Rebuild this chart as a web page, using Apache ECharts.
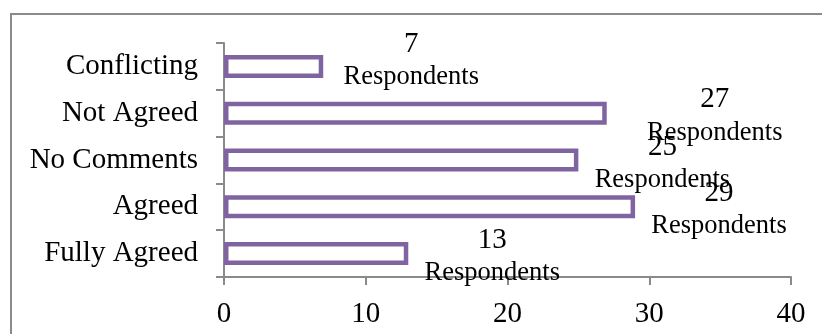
<!DOCTYPE html>
<html>
<head>
<meta charset="utf-8">
<script src="https://cdn.jsdelivr.net/npm/echarts@6/dist/echarts.min.js"></script>
<style>
  html, body { margin: 0; padding: 0; background: #fff; }
  #chart { width: 822px; height: 334px; }
</style>
</head>
<body>
<div id="chart"></div>
<script>
// data, bottom category first
var categories = ["Fully Agreed", "Agreed", "No Comments", "Not Agreed", "Conflicting"]
var respondents = [13, 29, 25, 27, 7]
var xTicks = [0, 10, 20, 30, 40]

var chartDom = document.getElementById("chart")
var myChart = echarts.init(chartDom)
var font = "'Liberation Serif', 'Times New Roman', serif"

// where each label sits relative to bar end (hand-nudged to look like the original)
var labelShift = [[0, 3], [0, 3], [0, 4], [24, 3], [4, -6]]

var option = {
  animation: false,
  backgroundColor: "#fff",
  graphic: [
    {
      type: "rect",
      shape: { x: 11, y: 14, width: 900, height: 400 },
      style: { fill: null, stroke: "#8a8a8a", lineWidth: 2 },
      silent: true
    }
  ],
  grid: { left: 224, right: 31, top: 43, bottom: 57 },
  xAxis: {
    type: "value",
    min: xTicks[0],
    max: xTicks[xTicks.length - 1],
    interval: 10,
    splitLine: { show: false },
    axisLine: { show: true, lineStyle: { color: "#8a8a8a", width: 2 } },
    axisTick: { show: true, length: 8, lineStyle: { color: "#8a8a8a", width: 2 } },
    axisLabel: { color: "#000", fontFamily: font, fontSize: 29, margin: 23 }
  },
  yAxis: {
    type: "category",
    data: categories,
    axisLine: { show: true, lineStyle: { color: "#8a8a8a", width: 2 } },
    axisTick: { show: true, length: 8, lineStyle: { color: "#8a8a8a", width: 2 } },
    axisLabel: { color: "#000", fontFamily: font, fontSize: 29, margin: 26 }
  },
  series: [
    {
      type: "bar",
      barWidth: 23,
      data: respondents.map(function (v, i) {
        return {
          value: v,
          label: { offset: labelShift[i] }
        }
      }),
      itemStyle: { color: "#fff", borderColor: "#8064a2", borderWidth: 4.5 },
      label: {
        show: true,
        position: "right",
        distance: 16,
        color: "#000",
        fontFamily: font,
        fontSize: 27,
        lineHeight: 33,
        align: "left",
        formatter: function (p) {
          return "{n|" + p.value + "}\n{r|Respondents}"
        },
        rich: {
          n: { fontFamily: font, fontSize: 29, lineHeight: 33, align: "center", width: 136 },
          r: { fontFamily: font, fontSize: 26.5, lineHeight: 33, align: "center", width: 136 }
        }
      }
    }
  ]
}

myChart.setOption(option)
window.addEventListener("resize", () => {
  myChart.resize()
})
</script>
</body>
</html>
